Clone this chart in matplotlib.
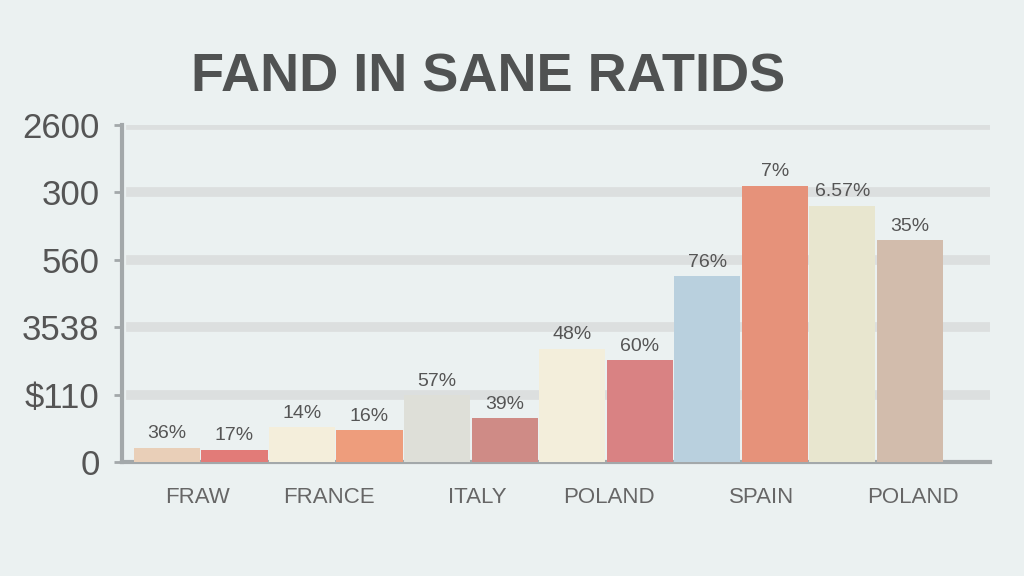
import matplotlib
matplotlib.use("Agg")
import matplotlib.pyplot as plt
import numpy as np

title = "FAND IN SANE RATIDS"
bar_values = [0.21, 0.18, 0.52, 0.47, 0.99, 0.65, 1.68, 1.51, 2.76, 4.10, 3.80, 3.29]
bar_labels = ["36%", "17%", "14%", "16%", "57%", "39%", "48%", "60%", "76%", "7%", "6.57%", "35%"]
bar_colors = ["#e9cfb8", "#e27b78", "#f4eedb", "#ee9d7c", "#dedfd8", "#cf8b86",
              "#f3eedb", "#d98283", "#b9d0de", "#e6927a", "#e8e6cf", "#d2bcac"]
categories = ["FRAW", "FRANCE", "ITALY", "POLAND", "SPAIN", "POLAND"]
ytick_labels = ["0", "$110", "3538", "560", "300", "2600"]

plt.rcParams['font.family'] = ['Liberation Sans', 'DejaVu Sans']

fig = plt.figure(figsize=(10.24, 5.76), dpi=100)
bg = "#ebf1f1"
fig.patch.set_facecolor(bg)
ax = fig.add_axes([0.119, 0.198, 0.848, 0.585])
ax.set_facecolor(bg)

x = np.arange(len(bar_values))
ax.bar(x, bar_values, width=0.98, color=bar_colors, zorder=3)
for xi, v, lab in zip(x, bar_values, bar_labels):
    ax.text(xi, v + 0.08, lab, ha="center", va="bottom", fontsize=14,
            color="#555555", zorder=4)

yt = np.arange(len(ytick_labels))
ax.set_yticks(yt)
ax.set_yticklabels(ytick_labels, fontsize=25, color="#555555")
for y in yt[1:]:
    ax.axhline(y, xmin=0.01, xmax=1.0, color="#dcdfdf", lw=7, zorder=1)

label_pos = [0.45, 2.4, 4.6, 6.55, 8.8, 11.05]
ax.set_xticks(label_pos)
ax.set_xticklabels(categories, fontsize=16, color="#666666")

ax.set_xlim(-0.667, 12.19)
ax.set_ylim(0, 5.0)
for s in ["top", "right"]:
    ax.spines[s].set_visible(False)
for s in ["left", "bottom"]:
    ax.spines[s].set_color("#a3a8aa")
    ax.spines[s].set_linewidth(3)
ax.tick_params(axis="y", length=6, width=2, color="#a3a8aa", pad=10)
ax.tick_params(axis="x", length=0, pad=18)

fig.text(0.477, 0.866, title, ha="center", va="center", fontsize=39,
         fontweight="bold", color="#505252")

fig.savefig("out.png", dpi=100, facecolor=bg)
